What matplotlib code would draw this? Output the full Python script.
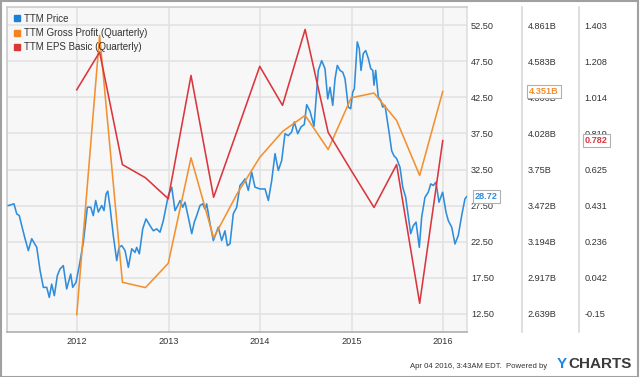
import matplotlib
matplotlib.use("Agg")
import matplotlib.pyplot as plt
from matplotlib.lines import Line2D
from matplotlib.patches import Rectangle
import matplotlib.transforms as mtrans

plt.rcParams['font.family'] = ['Liberation Sans', 'DejaVu Sans']

# ---------------- data ----------------
price_years = [2011.249, 2011.311, 2011.341, 2011.369, 2011.396, 2011.432, 2011.468, 2011.505,
               2011.560, 2011.596, 2011.632, 2011.669, 2011.697, 2011.723, 2011.752, 2011.785,
               2011.814, 2011.850, 2011.887, 2011.931, 2011.953, 2011.989, 2012.025, 2012.069,
               2012.113, 2012.150, 2012.178, 2012.204, 2012.233, 2012.270, 2012.295, 2012.317,
               2012.336, 2012.361, 2012.397, 2012.434, 2012.459, 2012.489, 2012.525, 2012.561,
               2012.598, 2012.634, 2012.652, 2012.681, 2012.718, 2012.754, 2012.798, 2012.834,
               2012.871, 2012.907, 2012.943, 2012.998, 2013.035, 2013.071, 2013.101, 2013.126,
               2013.155, 2013.180, 2013.216, 2013.254, 2013.282, 2013.308, 2013.344, 2013.374,
               2013.399, 2013.417, 2013.454, 2013.490, 2013.544, 2013.581, 2013.617, 2013.643,
               2013.672, 2013.708, 2013.745, 2013.781, 2013.811, 2013.836, 2013.872, 2013.909,
               2013.945, 2014.000, 2014.055, 2014.091, 2014.128, 2014.164, 2014.200, 2014.237,
               2014.273, 2014.309, 2014.346, 2014.375, 2014.412, 2014.448, 2014.484, 2014.510,
               2014.546, 2014.590, 2014.637, 2014.674, 2014.710, 2014.740, 2014.765, 2014.795,
               2014.820, 2014.845, 2014.874, 2014.904, 2014.929, 2014.965, 2014.991, 2015.013,
               2015.031, 2015.063, 2015.085, 2015.104, 2015.129, 2015.155, 2015.184, 2015.210,
               2015.232, 2015.246, 2015.264, 2015.293, 2015.319, 2015.341, 2015.366, 2015.391,
               2015.413, 2015.439, 2015.464, 2015.494, 2015.530, 2015.560, 2015.592, 2015.647,
               2015.675, 2015.705, 2015.741, 2015.767, 2015.803, 2015.839, 2015.866, 2015.894,
               2015.923, 2015.956, 2015.996, 2016.033, 2016.058, 2016.095, 2016.131, 2016.167,
               2016.204, 2016.240, 2016.259]
price_values = [27.50, 27.74, 26.35, 26.10, 24.70, 22.90, 21.25, 22.90,
                21.70, 18.50, 16.15, 16.15, 14.76, 16.60, 15.00, 17.80,
                18.70, 19.17, 15.93, 18.00, 16.15, 16.85, 19.17, 22.40,
                27.27, 27.27, 26.10, 28.20, 26.60, 27.50, 26.80, 29.10,
                29.50, 27.30, 23.30, 19.86, 21.70, 21.94, 21.25, 18.93,
                21.50, 21.00, 21.70, 20.80, 24.26, 25.65, 24.70, 24.00,
                24.26, 23.80, 25.40, 28.90, 30.04, 26.80, 27.50, 28.20,
                27.26, 27.96, 25.90, 23.60, 25.20, 26.10, 27.50, 27.74,
                27.00, 27.74, 24.96, 22.64, 24.50, 22.64, 24.00, 21.94,
                22.20, 26.35, 27.26, 30.28, 30.74, 31.20, 29.60, 32.13,
                30.05, 29.80, 29.80, 28.20, 30.97, 34.70, 32.36, 33.75,
                37.46, 37.20, 37.70, 39.10, 37.46, 38.40, 38.75, 41.50,
                40.60, 38.50, 46.25, 47.60, 46.50, 42.30, 43.90, 41.40,
                45.10, 46.94, 46.25, 46.00, 45.10, 41.15, 40.93, 43.24,
                43.70, 50.20, 49.26, 46.25, 48.60, 49.00, 47.90, 46.50,
                46.25, 44.20, 46.25, 42.54, 42.10, 41.15, 41.40, 39.30,
                37.46, 35.10, 34.40, 34.00, 32.80, 30.05, 28.65, 23.60,
                24.70, 25.20, 21.70, 25.90, 28.65, 29.35, 30.50, 30.28,
                30.74, 27.96, 29.35, 26.57, 25.40, 24.50, 22.17, 23.35,
                26.10, 28.43, 28.72]

quarter_years = [2011.997, 2012.247, 2012.496, 2012.748, 2012.997, 2013.246, 2013.493,
                 2013.745, 2013.997, 2014.246, 2014.493, 2014.745, 2014.997, 2015.246,
                 2015.493, 2015.745, 2015.997]
gross_profit_b = [2.631, 4.784, 2.881, 2.840, 3.027, 3.840, 3.223, 3.557, 3.843,
                  4.043, 4.167, 3.904, 4.303, 4.339, 4.128, 3.704, 4.351]
eps_basic = [1.056, 1.259, 0.653, 0.582, 0.469, 1.133, 0.477, 0.828, 1.182,
             0.972, 1.381, 0.826, 0.621, 0.422, 0.653, -0.094, 0.782]

price_ticks = [12.5, 17.5, 22.5, 27.5, 32.5, 37.5, 42.5, 47.5, 52.5]
price_tick_labels = ['12.50', '17.50', '22.50', '27.50', '32.50', '37.50', '42.50', '47.50', '52.50']
gp_tick_labels = ['2.639B', '2.917B', '3.194B', '3.472B', '3.75B', '4.028B', '4.306B', '4.583B', '4.861B']
eps_tick_labels = ['-0.15', '0.042', '0.236', '0.431', '0.625', '0.819', '1.014', '1.208', '1.403']
year_ticks = [2012, 2013, 2014, 2015, 2016]
year_labels = ['2012', '2013', '2014', '2015', '2016']
series_names = ['TTM Price', 'TTM Gross Profit (Quarterly)', 'TTM EPS Basic (Quarterly)']

# ---------------- style ----------------
BLUE = '#2f8ddb'
ORANGE = '#f39130'
RED = '#d9363e'
GRID = '#e1e1e1'
TXT = '#333333'
FS = 6.6

W, H = 640, 377
fig = plt.figure(figsize=(W / 100, H / 100), dpi=100)
left, right, top, bottom = 7.3, 466.7, 7.3, 331.7
ax = fig.add_axes([left / W, 1 - bottom / H, (right - left) / W, (bottom - top) / H])
ax.set_facecolor('#f7f7f7')

ylo, yhi = 10.0, 55.0
ax.set_xlim(2011.238, 2016.259)
ax.set_ylim(ylo, yhi)

# linear mapping of right-axis scales to the price scale
def lin(vals, p):
    a0, a1 = vals[0], vals[-1]
    return a0 + (p - price_ticks[0]) * (a1 - a0) / (price_ticks[-1] - price_ticks[0])

gp_vals = [float(s.rstrip('B')) for s in gp_tick_labels]
eps_vals = [float(s) for s in eps_tick_labels]

ax2 = ax.twinx()
ax3 = ax.twinx()
ax2.set_ylim(lin(gp_vals, ylo), lin(gp_vals, yhi))
ax3.set_ylim(lin(eps_vals, ylo), lin(eps_vals, yhi))

# grid / ticks of main axis
ax.set_xticks(year_ticks)
ax.set_xticklabels(year_labels)
ax.set_yticks(price_ticks)
ax.set_yticklabels(price_tick_labels)
ax.grid(True, color=GRID, lw=1.1)
ax.set_axisbelow(True)
ax.yaxis.tick_right()
ax.tick_params(axis='both', length=0, labelsize=FS, labelcolor=TXT)
ax.tick_params(axis='y', pad=3)
ax.tick_params(axis='x', pad=4)

for s in ['top', 'left']:
    ax.spines[s].set_color('#c8c8c8')
ax.spines['bottom'].set_color('#a8a8a8')
ax.spines['right'].set_color('#dcdcdc')
for s in ax.spines.values():
    s.set_linewidth(1.1)

ax2.set_yticks([lin(gp_vals, p) for p in price_ticks])
ax2.set_yticklabels(gp_tick_labels)
ax3.set_yticks([lin(eps_vals, p) for p in price_ticks])
ax3.set_yticklabels(eps_tick_labels)
for a, off in ((ax2, 55.5), (ax3, 112.5)):
    for s in ['top', 'left', 'bottom']:
        a.spines[s].set_visible(False)
    a.spines['right'].set_position(('outward', off * 72 / 100))
    a.spines['right'].set_color('#d4d4d4')
    a.spines['right'].set_linewidth(1.1)
    a.tick_params(axis='y', length=0, pad=4, labelsize=FS, labelcolor=TXT)

# series
ax.plot(price_years, price_values, color=BLUE, lw=1.15, zorder=3)
ax2.plot(quarter_years, gross_profit_b, color=ORANGE, lw=1.15, zorder=3)
ax3.plot(quarter_years, eps_basic, color=RED, lw=1.15, zorder=3)

# legend
handles = [Line2D([], [], ls='none', marker='s', ms=4.2, mfc=c, mec=c)
           for c in ('#1e7fd6', '#f58220', '#d93636')]
leg = ax3.legend(handles, series_names, loc='upper left', bbox_to_anchor=(0.0, 1.0),
                 frameon=False, fontsize=7, handlelength=0.6, handletextpad=0.5,
                 labelspacing=0.45, borderaxespad=0.35, borderpad=0.3)
for t in leg.get_texts():
    t.set_color(TXT)

# last-value flags
def flag(axis, xpix, yval, text, color):
    tr = mtrans.blended_transform_factory(fig.transFigure, axis.transData)
    axis.text(xpix / W, yval, text, transform=tr, fontsize=6.6, fontweight='bold',
              color=color, va='center', ha='left', zorder=10, clip_on=False,
              bbox=dict(boxstyle='square,pad=0.2', fc='white', ec='#b0b0b0', lw=0.8))

flag(ax, 475, price_values[-1], f'{price_values[-1]:.2f}', BLUE)
flag(ax2, 529, gross_profit_b[-1], f'{gross_profit_b[-1]:.3f}B', ORANGE)
flag(ax3, 585, eps_basic[-1], f'{eps_basic[-1]:.3f}', RED)

# footer
fig.text(410 / W, 1 - 366 / H, 'Apr 04 2016, 3:43AM EDT.  Powered by', fontsize=5.6,
         color=TXT, va='center', ha='left')
fig.text(632 / W, 1 - 363.5 / H, 'CHARTS', fontsize=11, fontweight='bold', color='#3a3a3a',
         va='center', ha='right')
fig.text(557 / W, 1 - 363.5 / H, 'Y', fontsize=11, fontweight='bold', color='#1e88e5',
         va='center', ha='left')

# outer frame
fig.patches.append(Rectangle((0.5 / W, 0.5 / H), 1 - 2.5 / W, 1 - 1.5 / H,
                             transform=fig.transFigure, fill=False, ec='#a0a0a0', lw=1.5))

fig.savefig('out.png', dpi=100)
